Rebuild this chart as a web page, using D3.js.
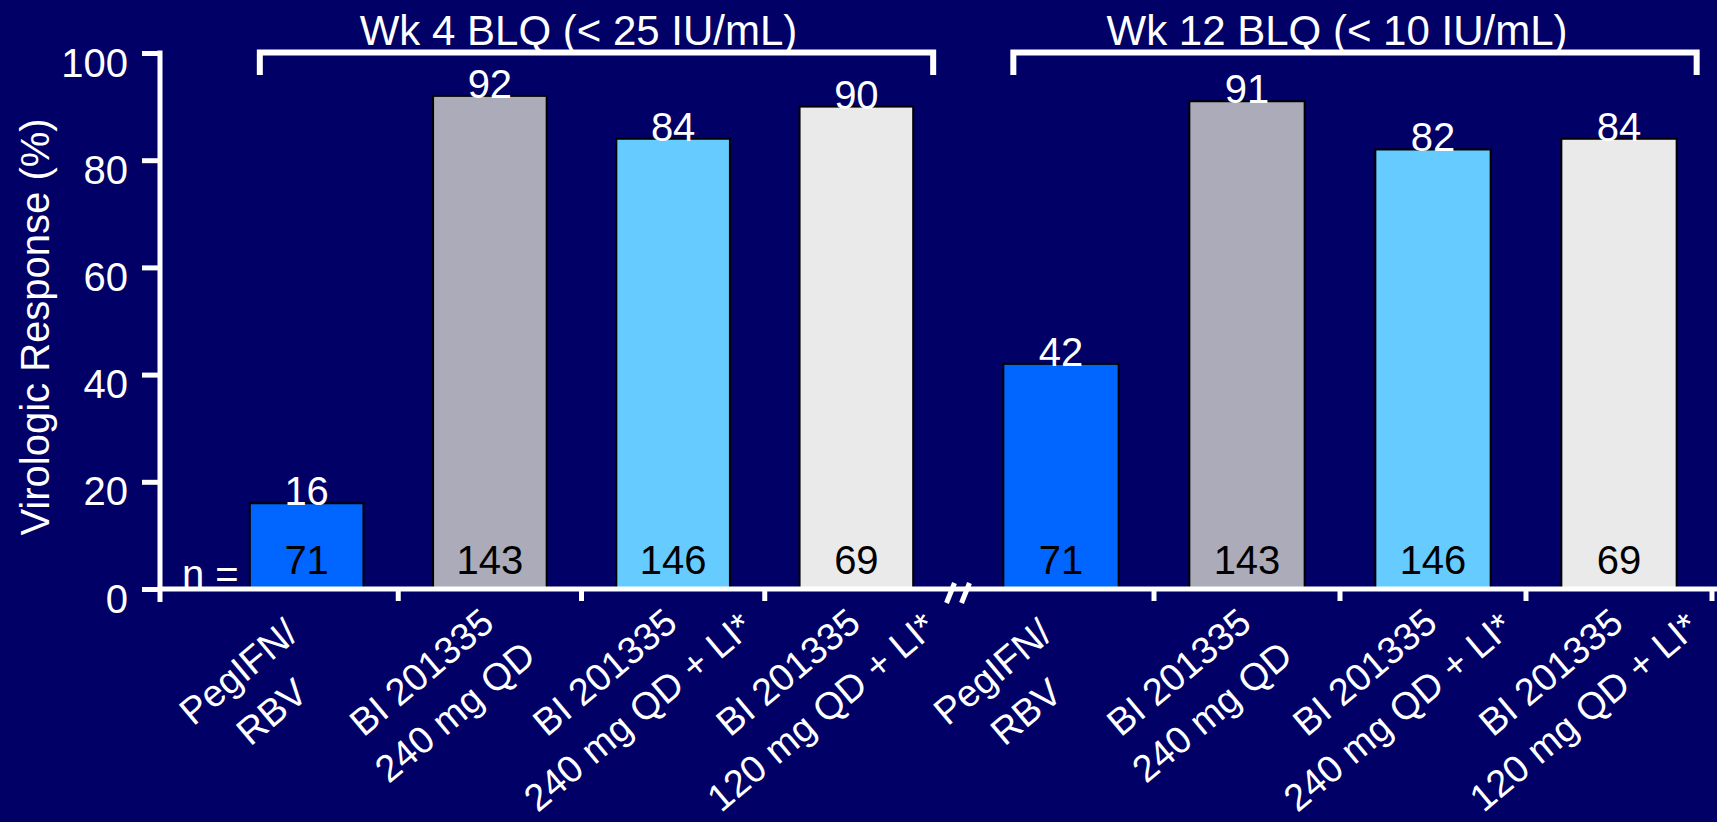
<!DOCTYPE html>
<html>
<head>
<meta charset="utf-8">
<script src="https://cdn.jsdelivr.net/npm/d3@7"></script>
<style>
  html, body { margin: 0; padding: 0; background: #000066; }
  svg { display: block; }
</style>
</head>
<body>
<svg id="chart" width="1717" height="822"></svg>
<script>
// ---- data ----
const categories = [
  ["PegIFN/", "RBV"],
  ["BI 201335", "240 mg QD"],
  ["BI 201335", "240 mg QD + LI*"],
  ["BI 201335", "120 mg QD + LI*"]
];
const groupTitles = ["Wk 4 BLQ (< 25 IU/mL)", "Wk 12 BLQ (< 10 IU/mL)"];
const wk4Values = [16, 92, 84, 90];
const wk12Values = [42, 91, 82, 84];
const nValues = [71, 143, 146, 69];
const yTicks = [0, 20, 40, 60, 80, 100];
const barColors = ["#0066FF", "#ABABB9", "#66CCFF", "#EAEAEA"];
const yTitle = "Virologic Response (%)";

// ---- layout ----
const FONT = "'Liberation Sans', Arial, Helvetica, sans-serif";
const W = 1717, H = 822;
const axisX = 160, yTop = 53, yBase = 589;
const groupRanges = [[215, 948], [968, 1712]];

const svg = d3.select("#chart").attr("font-family", FONT);
svg.append("rect").attr("width", W).attr("height", H).attr("fill", "#000066");

const y = d3.scaleLinear().domain([0, 100]).range([yBase, yTop]);
const idx = d3.range(categories.length);
const xScales = groupRanges.map(r =>
  d3.scaleBand().domain(idx).range(r).paddingInner(0.38).paddingOuter(0.19));

const groups = [wk4Values, wk12Values];

// bars, value labels and n counts
groups.forEach((vals, g) => {
  const x = xScales[g];
  const layer = svg.append("g");
  layer.selectAll("rect").data(vals).join("rect")
    .attr("x", (d, i) => x(i))
    .attr("width", x.bandwidth())
    .attr("y", d => y(d))
    .attr("height", d => y(0) - y(d))
    .attr("fill", (d, i) => barColors[i])
    .attr("stroke", "#000")
    .attr("stroke-width", 2);
  layer.selectAll("text.val").data(vals).join("text")
    .attr("class", "val")
    .attr("x", (d, i) => x(i) + x.bandwidth() / 2)
    .attr("y", d => y(d) + 2)
    .attr("text-anchor", "middle")
    .attr("font-size", 40)
    .attr("fill", "#fff")
    .text(d => d);
  layer.selectAll("text.n").data(nValues).join("text")
    .attr("class", "n")
    .attr("x", (d, i) => x(i) + x.bandwidth() / 2)
    .attr("y", 574)
    .attr("text-anchor", "middle")
    .attr("font-size", 40)
    .attr("fill", "#000")
    .text(d => d);
});

// "n =" row label
svg.append("text").attr("x", 182).attr("y", 588)
  .attr("font-size", 40).attr("fill", "#fff").text("n =");

// y axis
const yAxis = svg.append("g")
  .attr("transform", `translate(${axisX},0)`)
  .call(d3.axisLeft(y).tickValues(yTicks).tickSize(18).tickSizeOuter(0).tickPadding(14));
yAxis.attr("font-family", FONT).attr("font-size", 40);
yAxis.select(".domain").remove();
yAxis.selectAll(".tick line").attr("stroke", "#fff").attr("stroke-width", 5);
yAxis.selectAll(".tick text").attr("fill", "#fff").attr("dy", 23);
svg.append("line")
  .attr("x1", axisX).attr("x2", axisX)
  .attr("y1", y(100) - 2.5).attr("y2", yBase + 13)
  .attr("stroke", "#fff").attr("stroke-width", 5);

// y title
svg.append("text")
  .attr("transform", "translate(49,327) rotate(-90)")
  .attr("text-anchor", "middle")
  .attr("font-size", 40)
  .attr("fill", "#fff")
  .text(yTitle);

// x axis baseline
svg.append("line")
  .attr("x1", axisX - 2.5).attr("x2", W)
  .attr("y1", yBase).attr("y2", yBase)
  .attr("stroke", "#fff").attr("stroke-width", 5);

// category separator ticks
xScales.forEach((x, g) => {
  const step = x.step();
  const bounds = idx.slice(1).map(i => x(i) - step * x.paddingInner() / 2);
  if (g === 1) bounds.push(x.range()[1]);
  svg.append("g").selectAll("line").data(bounds).join("line")
    .attr("x1", d => d).attr("x2", d => d)
    .attr("y1", yBase).attr("y2", yBase + 12)
    .attr("stroke", "#fff").attr("stroke-width", 5);
});

// axis break marks between the two groups
const breakX = (groupRanges[0][1] + groupRanges[1][0]) / 2;
[-7.5, 7.5].forEach(off => {
  svg.append("line")
    .attr("x1", breakX + off - 4).attr("y1", yBase + 14)
    .attr("x2", breakX + off + 4).attr("y2", yBase - 6)
    .attr("stroke", "#fff").attr("stroke-width", 5);
});

// category labels: two centred lines, rotated 40 degrees
const lineH = 52;
xScales.forEach(x => {
  categories.forEach((lines, i) => {
    const cx = x(i) + x.bandwidth() / 2 - 60;
    const lab = svg.append("g")
      .attr("transform", `translate(${cx},682) rotate(-40)`);
    lines.forEach((t, k) => {
      lab.append("text")
        .attr("x", 0)
        .attr("y", k * lineH)
        .attr("text-anchor", "middle")
        .attr("font-size", 38)
        .attr("fill", "#fff")
        .text(t);
    });
  });
});

// group brackets and titles
xScales.forEach((x, g) => {
  const x1 = x(0) + 10;
  const x2 = x(idx[idx.length - 1]) + x.bandwidth() + 20;
  svg.append("path")
    .attr("d", `M${x1},75 V52.5 H${x2} V75`)
    .attr("fill", "none")
    .attr("stroke", "#fff")
    .attr("stroke-width", 6);
  svg.append("text")
    .attr("x", (x1 + x2) / 2 - 18)
    .attr("y", 45)
    .attr("text-anchor", "middle")
    .attr("font-size", 42)
    .attr("fill", "#fff")
    .text(groupTitles[g]);
});
</script>
</body>
</html>
